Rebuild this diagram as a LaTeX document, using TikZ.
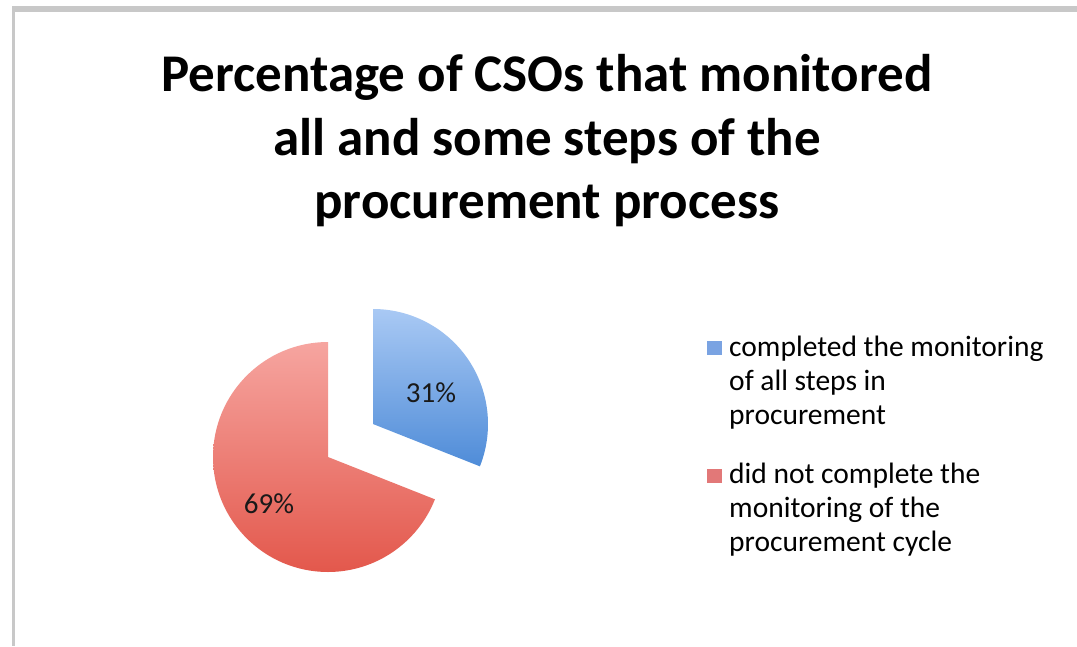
\documentclass[tikz,border=0pt]{standalone}
\usepackage{fontspec}
\setmainfont{Carlito}
\definecolor{framegray}{HTML}{C8C8C8}
\definecolor{bluetop}{HTML}{A9C9F4}
\definecolor{bluebot}{HTML}{4F8CD8}
\definecolor{redtop}{HTML}{F6A5A0}
\definecolor{redbot}{HTML}{E3584C}
\definecolor{bluesq}{HTML}{7AA3E2}
\definecolor{redsq}{HTML}{E27878}
\tikzset{
  titleline/.style={anchor=base, inner sep=0pt, font=\fontsize{53}{63}\selectfont\bfseries},
  legline/.style={anchor=base west, inner sep=0pt, font=\fontsize{29.5}{34}\selectfont},
  pielabel/.style={inner sep=0pt, font=\fontsize{29}{34}\selectfont, text=black!90}
}
\begin{document}
\begin{tikzpicture}[x=1pt,y=1pt]
\useasboundingbox[fill=white] (0,0) rectangle (1077,-646);
% frame
\fill[framegray] (12,-6) rectangle (1077,-12);
\fill[framegray] (12,-6) rectangle (15,-646);
% title
\node[titleline] (title1) at (547,-91) {Percentage of CSOs that monitored};
\node[titleline] (title2) at (547,-155) {all and some steps of the};
\node[titleline] (title3) at (547,-218) {procurement process};
% pie
\shade[top color=redtop, bottom color=redbot]
  (328,-457) -- ++(90:115) arc[start angle=90, end angle=338.4, radius=115] -- cycle;
\shade[top color=bluetop, bottom color=bluebot]
  (373,-424) -- ++(-21.6:115) arc[start angle=-21.6, end angle=90, radius=115] -- cycle;
\node[pielabel] (l31) at (431,-393) {31\%};
\node[pielabel] (l69) at (269,-504) {69\%};
% legend
\fill[bluesq] (707,-341) rectangle (722,-355);
\fill[redsq] (707,-469) rectangle (722,-483);
\node[legline] (a1) at (729,-356) {completed the monitoring};
\node[legline] (a2) at (729,-390) {of all steps in};
\node[legline] (a3) at (729,-424) {procurement};
\node[legline] (b1) at (729,-483) {did not complete the};
\node[legline] (b2) at (729,-517) {monitoring of the};
\node[legline] (b3) at (729,-551) {procurement cycle};
\end{tikzpicture}
\end{document}
